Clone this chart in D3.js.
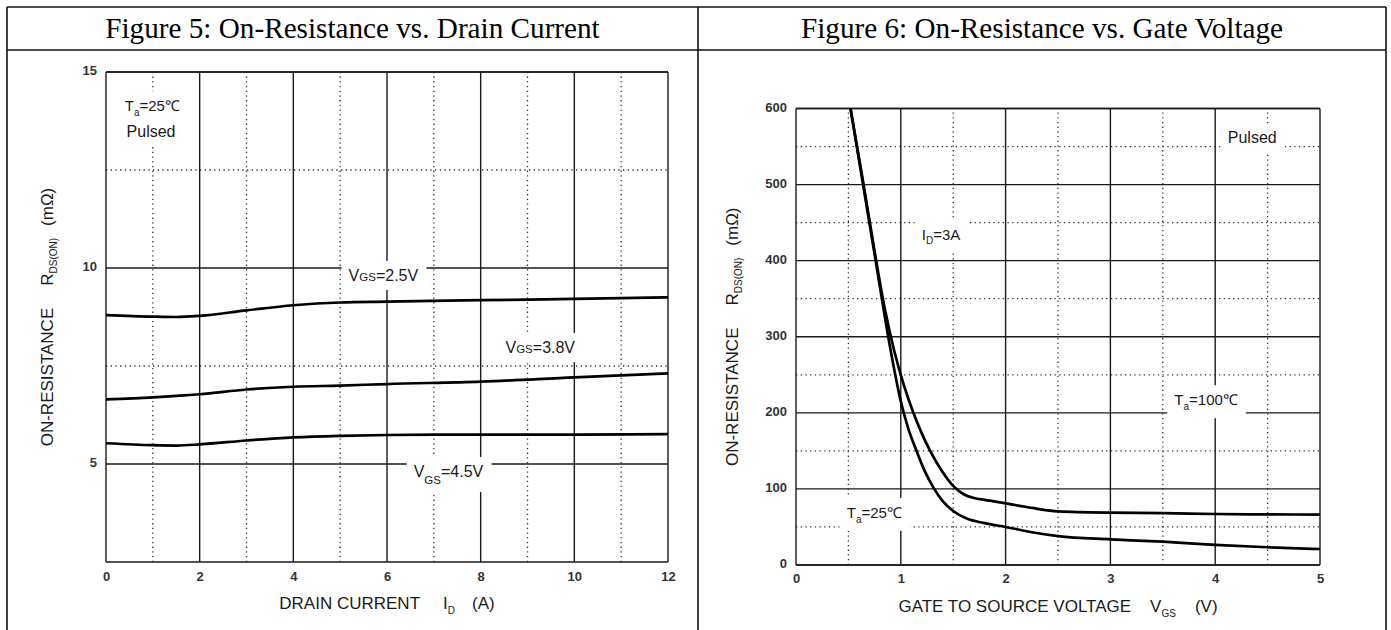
<!DOCTYPE html>
<html><head><meta charset="utf-8">
<script src="https://cdn.jsdelivr.net/npm/d3@7"></script>
<style>body{margin:0;background:#fff}</style>
</head><body>
<svg id="c" width="1391" height="630"></svg>
<script>
// ---------- data ----------
const figTitles = ["Figure 5: On-Resistance vs. Drain Current", "Figure 6: On-Resistance vs. Gate Voltage"];

// Figure 5: R_DS(on) (mΩ) vs drain current I_D (A)
const fig5Current = [0, 1, 1.5, 2, 3, 4, 5, 6, 8, 10, 12];
const fig5Vgs25 = [8.80, 8.76, 8.75, 8.78, 8.92, 9.05, 9.12, 9.14, 9.18, 9.21, 9.25];
const fig5Vgs38 = [6.65, 6.70, 6.74, 6.78, 6.90, 6.97, 7.00, 7.04, 7.10, 7.21, 7.31];
const fig5Vgs45 = [5.53, 5.48, 5.47, 5.50, 5.60, 5.68, 5.72, 5.74, 5.75, 5.75, 5.76];
const fig5XTicks = [0, 2, 4, 6, 8, 10, 12];
const fig5XMinor = [1, 3, 5, 7, 9, 11];
const fig5YTicks = [5, 10, 15];
const fig5YMinor = [7.5, 12.5];

// Figure 6: R_DS(on) (mΩ) vs gate voltage V_GS (V)
const fig6Vgs25 = [0.52, 0.64, 0.76, 0.88, 0.94, 1.0, 1.07, 1.15, 1.23, 1.31, 1.4, 1.5, 1.63, 1.8, 2.0, 2.25, 2.5, 3.0, 3.5, 4.0, 4.5, 5.0];
const fig6R25   = [600, 500, 400, 300, 255, 215, 180, 150, 123, 102, 84, 71, 61, 55, 50, 43, 38, 33.7, 30.6, 26.5, 23.3, 21];
const fig6Vgs100 = [0.52, 0.64, 0.765, 0.85, 0.94, 1.03, 1.12, 1.2, 1.28, 1.4, 1.5, 1.6, 1.7, 1.8, 2.0, 2.25, 2.5, 3.0, 3.5, 4.0, 4.5, 5.0];
const fig6R100   = [600, 504, 400, 335, 280, 236, 200, 173, 150, 122, 104, 93, 88, 85.5, 81, 75, 70.5, 68.8, 68.3, 67, 66.5, 66.3];
const fig6XTicks = [0, 1, 2, 3, 4, 5];
const fig6XMinor = [0.5, 1.5, 2.5, 3.5, 4.5];
const fig6YTicks = [0, 100, 200, 300, 400, 500, 600];
const fig6YMinor = [50, 150, 250, 350, 450, 550];

// ---------- layout ----------
const svg = d3.select("#c");
const SANS = "'Liberation Sans', Arial, sans-serif";
const SERIF = "'Liberation Serif', 'Times New Roman', serif";

// table frame
const T = {l: 7, r: 1386, t: 7, sep: 50, mid: 698, b: 640};
const tbl = svg.append("g").attr("stroke", "#111").attr("stroke-width", 1.6);
[[T.l, T.t, T.r, T.t], [T.l, T.sep, T.r, T.sep], [T.l, T.t, T.l, T.b], [T.mid, T.t, T.mid, T.b], [T.r, T.t, T.r, T.b]]
  .forEach(p => tbl.append("line").attr("x1", p[0]).attr("y1", p[1]).attr("x2", p[2]).attr("y2", p[3]));
svg.selectAll("text.title").data(figTitles).join("text").attr("class", "title")
  .attr("x", (d, i) => i === 0 ? (T.l + T.mid) / 2 : (T.mid + T.r) / 2)
  .attr("y", 38).attr("text-anchor", "middle")
  .attr("font-family", SERIF).attr("font-size", 29.2).attr("fill", "#000").text(d => d);

function addSegs(t, segs) {
  segs.forEach(s => {
    const ts = t.append("tspan").text(s.t);
    if (s.size) ts.attr("font-size", s.size);
    if (s.dy) ts.attr("dy", s.dy);
    if (s.dx) ts.attr("dx", s.dx);
  });
}

function addText(g, px, py, segs, size, withBox) {
  const t = g.append("text").attr("x", px).attr("y", py)
    .attr("font-family", SANS).attr("font-size", size).attr("fill", "#1a1a1a");
  addSegs(t, segs);
  if (withBox) {
    const b = t.node().getBBox();
    g.insert("rect", () => t.node())
      .attr("x", b.x - 7).attr("y", b.y - 6).attr("width", b.width + 15).attr("height", b.height + 12)
      .attr("fill", "#fff");
  }
  return t;
}

function drawChart(cfg) {
  const x = d3.scaleLinear().domain(cfg.xDomain).range(cfg.xRange);
  const y = d3.scaleLinear().domain(cfg.yDomain).range(cfg.yRange);
  const g = svg.append("g");
  const [y0, y1] = cfg.yRange, [x0, x1] = cfg.xRange;
  const dotted = g.append("g").attr("stroke", "#333").attr("stroke-width", 1.3).attr("stroke-dasharray", "1.3,3.4");
  dotted.selectAll("line.vx").data(cfg.xMinor).join("line").attr("class", "vx")
    .attr("x1", d => x(d)).attr("x2", d => x(d)).attr("y1", y0).attr("y2", y1);
  dotted.selectAll("line.hy").data(cfg.yMinor).join("line").attr("class", "hy")
    .attr("y1", d => y(d)).attr("y2", d => y(d)).attr("x1", x0).attr("x2", x1);
  const solid = g.append("g").attr("stroke", "#1a1a1a").attr("stroke-width", 1.4);
  solid.selectAll("line.vx").data(cfg.xTicks).join("line").attr("class", "vx")
    .attr("x1", d => x(d)).attr("x2", d => x(d)).attr("y1", y0).attr("y2", y1);
  solid.selectAll("line.hy").data(cfg.yTicks.concat(cfg.yDomain)).join("line").attr("class", "hy")
    .attr("y1", d => y(d)).attr("y2", d => y(d)).attr("x1", x0).attr("x2", x1);

  // tick labels
  const ax = g.append("g").attr("transform", `translate(0,${y0})`)
    .call(d3.axisBottom(x).tickValues(cfg.xTicks).tickSize(0).tickPadding(cfg.xPad).tickFormat(d3.format("d")));
  const ay = g.append("g").attr("transform", `translate(${x0},0)`)
    .call(d3.axisLeft(y).tickValues(cfg.yTicks).tickSize(0).tickPadding(9).tickFormat(d3.format("d")));
  [ax, ay].forEach(a => {
    a.select(".domain").remove();
    a.selectAll("text").attr("font-family", SANS).attr("font-size", 13).attr("font-weight", "bold").attr("fill", "#333");
  });
  ay.selectAll("text").attr("dy", "0.22em");

  // axis titles
  const xt = g.append("text").attr("x", (x0 + x1) / 2).attr("y", y0 + 47).attr("text-anchor", "middle")
    .attr("font-family", SANS).attr("font-size", 17).attr("fill", "#1a1a1a");
  addSegs(xt, cfg.xTitle);
  const yt = g.append("text").attr("transform", `translate(${cfg.yTitleX},${(y0 + y1) / 2}) rotate(-90)`)
    .attr("text-anchor", "middle").attr("font-family", SANS).attr("font-size", 17).attr("fill", "#1a1a1a");
  addSegs(yt, [{t: "ON-RESISTANCE"}, {t: "R", dx: 22}, {t: "DS(ON)", size: 10, dy: 4}, {t: "(mΩ)", dx: 12, dy: -4}]);

  // annotations
  cfg.labels.forEach(L => addText(g, x(L.x), y(L.y), L.segs, L.size, true));

  // curves
  const line = d3.line().x(d => x(d[0])).y(d => y(d[1])).curve(d3.curveMonotoneX);
  g.selectAll("path.curve").data(cfg.series).join("path").attr("class", "curve")
    .attr("d", d => line(d)).attr("fill", "none").attr("stroke", "#000").attr("stroke-width", 2.7)
    .attr("stroke-linejoin", "round");
}

const zip = (xs, ys) => xs.map((v, i) => [v, ys[i]]);

drawChart({
  xDomain: [0, 12], xRange: [106, 668],
  yDomain: [2.5, 15], yRange: [562, 72],
  xTicks: fig5XTicks, xMinor: fig5XMinor, yTicks: fig5YTicks, yMinor: fig5YMinor,
  xPad: 10, yTitleX: 53,
  xTitle: [{t: "DRAIN CURRENT"}, {t: "I", dx: 23}, {t: "D", size: 10, dy: 5}, {t: "(A)", dx: 17, dy: -5}],
  labels: [
    {x: 0.4, y: 14.0, size: 15, segs: [{t: "T"}, {t: "a", size: 10, dy: 5}, {t: "=25℃", dy: -5}]},
    {x: 0.44, y: 13.34, size: 16, segs: [{t: "Pulsed"}]},
    {x: 5.18, y: 9.67, size: 16, segs: [{t: "V"}, {t: "GS", size: 11.5}, {t: "=2.5V"}]},
    {x: 8.53, y: 7.83, size: 16, segs: [{t: "V"}, {t: "GS", size: 11.5}, {t: "=3.8V"}]},
    {x: 6.57, y: 4.67, size: 16, segs: [{t: "V"}, {t: "GS", size: 11.5, dy: 7}, {t: "=4.5V", dy: -7}]}
  ],
  series: [zip(fig5Current, fig5Vgs25), zip(fig5Current, fig5Vgs38), zip(fig5Current, fig5Vgs45)]
});

drawChart({
  xDomain: [0, 5], xRange: [796, 1320],
  yDomain: [0, 600], yRange: [565, 108.5],
  xTicks: fig6XTicks, xMinor: fig6XMinor, yTicks: fig6YTicks, yMinor: fig6YMinor,
  xPad: 9, yTitleX: 738,
  xTitle: [{t: "GATE TO SOURCE VOLTAGE"}, {t: "V", dx: 19}, {t: "GS", size: 10, dy: 5}, {t: "(V)", dx: 19, dy: -5}],
  labels: [
    {x: 4.12, y: 554, size: 16, segs: [{t: "Pulsed"}]},
    {x: 1.2, y: 427, size: 15, segs: [{t: "I"}, {t: "D", size: 10, dy: 4}, {t: "=3A", dy: -4}]},
    {x: 3.61, y: 210, size: 15, segs: [{t: "T"}, {t: "a", size: 10, dy: 5}, {t: "=100℃", dy: -5}]},
    {x: 0.484, y: 62, size: 15, segs: [{t: "T"}, {t: "a", size: 10, dy: 5}, {t: "=25℃", dy: -5}]}
  ],
  series: [zip(fig6Vgs25, fig6R25), zip(fig6Vgs100, fig6R100)]
});
</script>
</body></html>
